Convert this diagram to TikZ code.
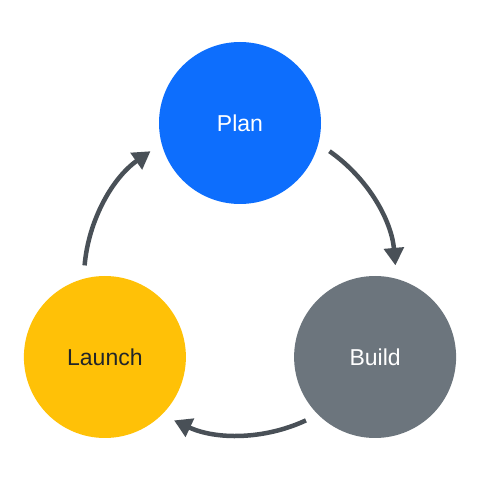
\documentclass[tikz,border=0pt]{standalone}
\usepackage{fontspec}
\setmainfont{Liberation Sans}
\usetikzlibrary{arrows.meta}
\definecolor{planblue}{HTML}{0D6EFD}
\definecolor{buildgray}{HTML}{6C757D}
\definecolor{launchyellow}{HTML}{FFC107}
\definecolor{arrowgray}{HTML}{495057}
\definecolor{darktext}{HTML}{212529}
\begin{document}
\begin{tikzpicture}[x=1pt,y=1pt,
    stage/.style={circle,minimum size=162pt,inner sep=0pt,font=\fontsize{23}{27}\selectfont},
    flow/.style={draw=arrowgray,line width=4.5pt,-{Triangle[length=17.5pt,width=19.5pt]}}]
    \useasboundingbox (0,0) rectangle (480,480);
    \coordinate (hub) at (240,201);
    \node[stage,fill=planblue,text=white] (plan) at ([shift={(90:156)}]hub) {Plan};
    \node[stage,fill=buildgray,text=white] (build) at ([shift={(-30:156)}]hub) {Build};
    \node[stage,fill=launchyellow,text=darktext] (launch) at ([shift={(210:156)}]hub) {Launch};
    % arcs around the hub, clockwise
    \foreach \a in {90,-30,210}
        \draw[flow] ([shift={(\a-35:156)}]hub) arc[start angle=\a-35,end angle=\a-85,radius=156];
\end{tikzpicture}
\end{document}
